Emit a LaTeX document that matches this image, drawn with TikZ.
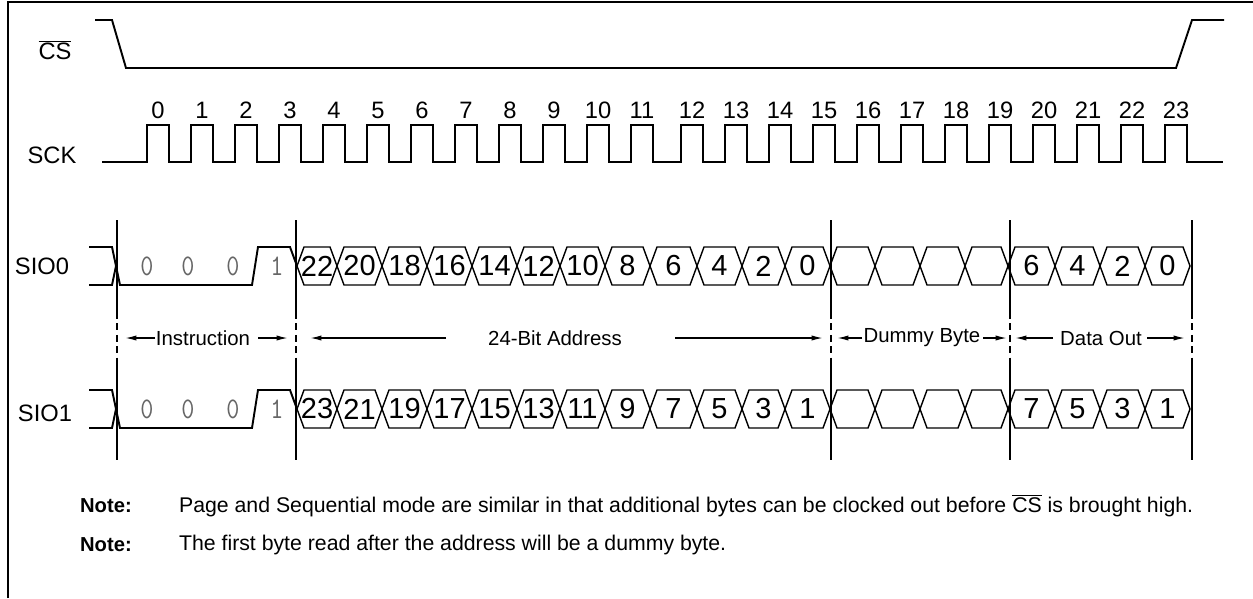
\documentclass[tikz,border=0pt]{standalone}
\usepackage{fontspec}
\usepackage{graphicx}
\setmainfont{Liberation Sans}
\newcommand{\fixdigit}[1]{\scalebox{0.85}[1]{\ttfamily #1}}
\usetikzlibrary{arrows.meta}

\begin{document}
\begin{tikzpicture}[x=0.02cm, y=-0.02cm,
  every node/.style={inner sep=1pt},
  wave/.style={line width=1.1pt, line join=miter},
  busbox/.style={line width=0.8pt},
  marker/.style={line width=1.1pt},
  span/.style={line width=0.8pt, -{Latex[length=6.5pt,width=3pt]}},
  signame/.style={font=\fontsize{13.5}{15}\selectfont},
  ticknum/.style={font=\fontsize{13.5}{15}\selectfont},
  bitnum/.style={font=\fontsize{16.5}{18}\selectfont},
  fixbit/.style={font=\fontsize{17}{19}\selectfont, text=black!60},
  phase/.style={font=\fontsize{11.6}{13}\selectfont},
  notetext/.style={font=\fontsize{12.1}{14}\selectfont, anchor=west}]

\useasboundingbox (0,0) rectangle (1253,598);
% frame
\draw[line width=1.2pt] (8,598) -- (8,2) -- (1253,2);

% signal names
\node[signame] (cs) at (55,50) {\(\overline{\mbox{CS}}\)};
\node[signame] (sck) at (52,155) {SCK};
\node[signame] (sio0) at (42,266) {SIO0};
\node[signame] (sio1) at (45,413) {SIO1};

% chip select
\draw[wave] (95,20) -- (112,20) -- (126,68) -- (1176,68) -- (1192,20) -- (1224,20);

% clock
\draw[wave] (102,162) foreach \r in {147,191,235,279,323,367,411,455,499,543,587,631,
  681,725,769,813,857,901,945,989,1033,1077,1121,1165}
  { -- (\r,162) -- (\r,125) -- ++(22,0) -- ++(0,37) } -- (1223,162);
\foreach \r [count=\k from 0] in {147,191,235,279,323,367,411,455,499,543,587,631,
  681,725,769,813,857,901,945,989,1033,1077,1121,1165}
  \node[ticknum] (t\k) at (\r+11,110) {\k};

% instruction phase, both lines
\foreach \m/\n in {266/0,409/1} {
  \draw[wave] (89,\m-19) -- (112,\m-19) -- (120,\m+19) -- (252,\m+19) -- (258,\m-19)
    -- (290,\m-19) -- (297,\m);
  \draw[wave] (89,\m+19) -- (112,\m+19) -- (116,\m);
  \node[fixbit] (ia\n) at (147,\m) {\fixdigit{0}};
  \node[fixbit] (ib\n) at (188,\m) {\fixdigit{0}};
  \node[fixbit] (ic\n) at (233,\m) {\fixdigit{0}};
  \node[fixbit] (id\n) at (277,\m) {\fixdigit{1}};
}

% address, dummy and data bits
\foreach \a/\b/\v [count=\i] in {297/337/22,337/382/20,382/427/18,427/472/16,472/517/14,
  517/560/12,560/605/10,605/650/8,650/697/6,697/742/4,742/785/2,785/830/0,
  830/875/{},875/920/{},920/965/{},965/1008/{},
  1008/1055/6,1055/1100/4,1100/1145/2,1145/1190/0} {
  \draw[busbox] (\a,266) -- (\a+7,247) -- (\b-7,247) -- (\b,266) -- (\b-7,285)
    -- (\a+7,285) -- cycle;
  \node[bitnum] (s0\i) at ({(\a+\b)/2},266) {\v};
}
\foreach \a/\b/\v [count=\i] in {297/337/23,337/382/21,382/427/19,427/472/17,472/517/15,
  517/560/13,560/605/11,605/650/9,650/697/7,697/742/5,742/785/3,785/830/1,
  830/875/{},875/920/{},920/965/{},965/1008/{},
  1008/1055/7,1055/1100/5,1100/1145/3,1145/1190/1} {
  \draw[busbox] (\a,409) -- (\a+7,390) -- (\b-7,390) -- (\b,409) -- (\b-7,428)
    -- (\a+7,428) -- cycle;
  \node[bitnum] (s1\i) at ({(\a+\b)/2},409) {\v};
}

% phase boundaries
\foreach \x in {117,296,831,1010,1192} {
  \draw[marker] (\x,220) -- (\x,312);
  \draw[marker, dash pattern=on 4pt off 2.5pt] (\x,312) -- (\x,363);
  \draw[marker] (\x,363) -- (\x,460);
}

% phase labels
\node[phase] (instr) at (203,338) {Instruction};
\node[phase] (addr) at (555,338) {24-Bit Address};
\node[phase] (dummy) at (922,338) {Dummy Byte};
\node[phase] (dout) at (1101,338) {Data Out};
\coordinate (ia) at (155,338); \coordinate (iaa) at (125,338);
\coordinate (ib) at (258,338); \coordinate (ibb) at (288,338);
\coordinate (aa) at (446,338); \coordinate (aaa) at (310,338);
\coordinate (ab) at (675,338); \coordinate (abb) at (823,338);
\coordinate (da) at (862,338); \coordinate (daa) at (837,338);
\coordinate (db) at (983,338); \coordinate (dbb) at (1007,338);
\coordinate (oa) at (1053,338); \coordinate (oaa) at (1015,338);
\coordinate (ob) at (1147,338); \coordinate (obb) at (1185,338);
\draw[span] (ia) -- (iaa); \draw[span] (ib) -- (ibb);
\draw[span] (aa) -- (aaa); \draw[span] (ab) -- (abb);
\draw[span] (da) -- (daa); \draw[span] (db) -- (dbb);
\draw[span] (oa) -- (oaa); \draw[span] (ob) -- (obb);

% notes
\node[notetext, font=\bfseries\fontsize{11.5}{14}\selectfont] (n1) at (78,506) {Note:};
\node[notetext] (n1t) at (177,506) {Page and Sequential mode are similar in that additional bytes can be clocked out before \(\overline{\mbox{CS}}\) is brought high.};
\node[notetext, font=\bfseries\fontsize{11.5}{14}\selectfont] (n2) at (78,545) {Note:};
\node[notetext] (n2t) at (177,545) {The first byte read after the address will be a dummy byte.};
\end{tikzpicture}
\end{document}
